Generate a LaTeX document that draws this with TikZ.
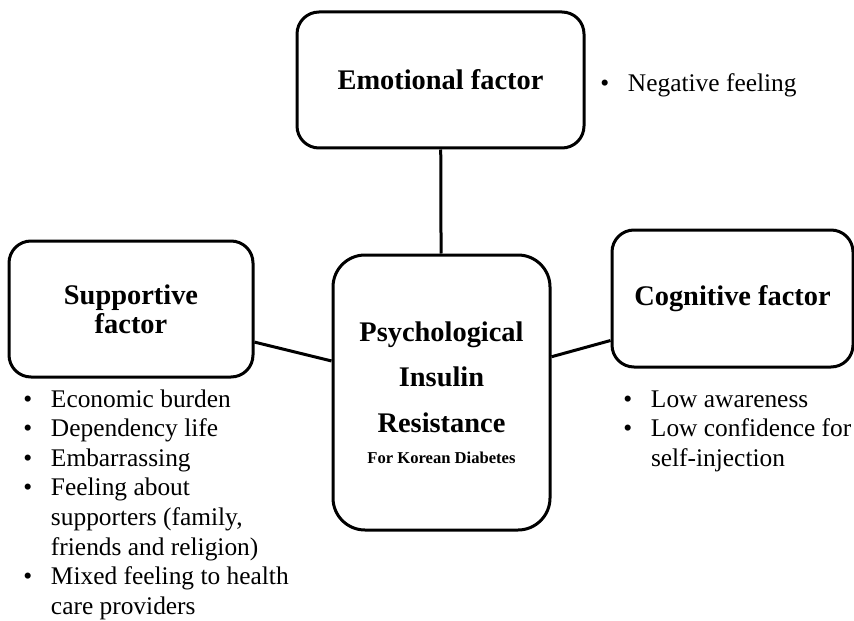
\documentclass[tikz,border=0pt]{standalone}
\usepackage{fontspec}
\setmainfont{Liberation Serif}
\usetikzlibrary{positioning}

\newcommand{\bul}{\makebox[13.8pt][l]{\textbullet}}

\begin{document}
\begin{tikzpicture}[
			x=0.5pt, y=-0.5pt,
			factor/.style={draw, rectangle, rounded corners=11pt, line width=1.5pt, align=center, inner sep=0pt, font=\fontsize{14.2}{14.5}\selectfont\bfseries},
			core/.style={factor, rounded corners=16pt, font=\fontsize{14.2}{22.75}\selectfont\bfseries},
			notes/.style={anchor=base west, inner sep=0pt, font=\fontsize{12.7}{14.8}\selectfont},
			link/.style={line width=1.5pt}
			]
			\useasboundingbox (0,0) rectangle (854,620);
			
			% Nodes
			\node (emo) [factor, minimum width=143.5pt, minimum height=68pt] at (440.5,80) {Emotional factor};
			\node (sup) [factor, minimum width=122pt, minimum height=68pt] at (131,309) {Supportive\\factor};
			\node (cen) [core, minimum width=108.5pt, minimum height=137.5pt] at (441.5,392.5) {Psychological\\Insulin\\Resistance\\[-7.25pt]{\fontsize{8.3}{10}\selectfont For Korean Diabetes}};
			\node (cog) [factor, minimum width=120.5pt, minimum height=68.5pt] at (732.5,298.5) {Cognitive factor};
			
			% Notes
			\node (emonote) [notes] at (600,92) {\begin{tabular}[t]{@{}l@{}l@{}}
				\bul & Negative feeling
			\end{tabular}};
			\node (supnote) [notes] at (23,407) {\begin{tabular}[t]{@{}l@{}l@{}}
				\bul & Economic burden\\
				\bul & Dependency life\\
				\bul & Embarrassing\\
				\bul & Feeling about\\
				     & supporters (family,\\
				     & friends and religion)\\
				\bul & Mixed feeling to health\\
				     & care providers
			\end{tabular}};
			\node (cognote) [notes] at (623,407) {\begin{tabular}[t]{@{}l@{}l@{}}
				\bul & Low awareness\\
				\bul & Low confidence for\\
				     & self-injection
			\end{tabular}};
			
			% Connections
			\draw [link] (emo) -- (cen);
			\draw [link] (sup.-15.6) -- (cen.164.8);
			\draw [link] (cen.18.1) -- (cog.-161);
			
		\end{tikzpicture}
\end{document}
